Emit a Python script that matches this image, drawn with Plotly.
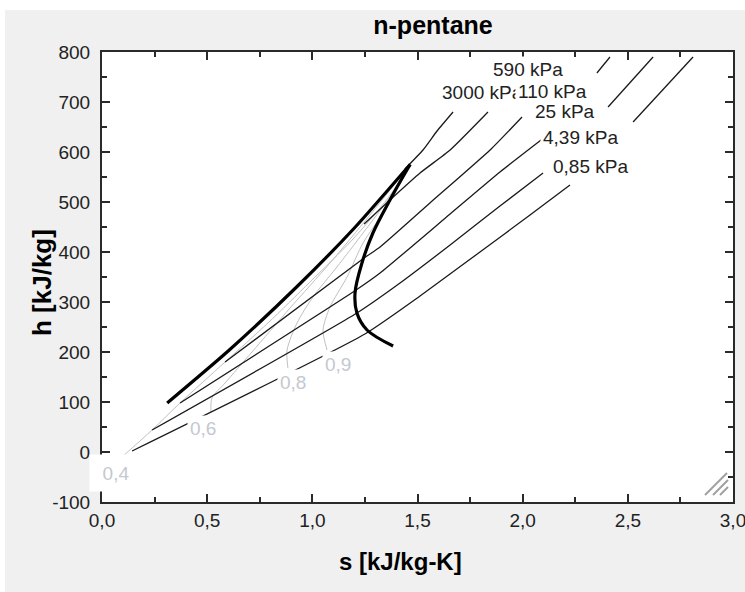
import plotly.graph_objects as go

# ---------------- data (s in kJ/kg-K, h in kJ/kg) ----------------
liquid_s = [0.31, 0.60, 0.93, 1.20, 1.465]
liquid_h = [98, 202, 332, 448, 575]

vapor_s = [1.465, 1.422, 1.369, 1.288, 1.236, 1.203, 1.212, 1.260, 1.384]
vapor_h = [575, 544, 504, 438, 378, 318, 278, 244, 212]

# isobars (None = gap where the curve label sits)
p3000_s = [1.440, 1.526, 1.593, 1.669]
p3000_h = [566, 604, 642, 680]

p590_s = [1.246, 1.369, 1.512, 1.655, 1.835]
p590_h = [456, 504, 558, 604, 680]

p110_s = [0.585, 1.246, 1.322, 1.559, 1.845, 1.997]
p110_h = [180, 388, 410, 498, 604, 670]

p25_s = [0.371, 1.208, 1.322, 1.655, 1.892, 2.106, None, 2.353, 2.415]
p25_h = [98, 324, 358, 476, 560, 630, None, 758, 790]

p439_s = [0.238, 1.212, 1.417, 1.655, 1.892, 2.097, None, 2.406, 2.620]
p439_h = [44, 278, 338, 414, 492, 558, None, 690, 790]

p085_s = [0.143, 1.250, 1.512, 1.797, 2.035, 2.225, None, 2.525, 2.810]
p085_h = [2, 236, 312, 400, 474, 534, None, 660, 790]

# constant-quality lines
q04_s = [0.100, 0.238, 0.371, 0.585, 0.789, 0.989, 1.189, 1.360, 1.464]
q04_h = [-8, 44, 98, 180, 258, 340, 424, 508, 574]
q06_s = [0.518, 0.523, 0.585, 0.713, 0.894, 1.084, 1.274, 1.464]
q06_h = [80, 108, 138, 200, 288, 378, 474, 574]
q08_s = [0.884, 0.880, 0.927, 1.003, 1.117, 1.241, 1.369, 1.464]
q08_h = [168, 204, 258, 310, 370, 438, 510, 574]
q09_s = [1.070, 1.051, 1.084, 1.165, 1.241, 1.322, 1.417, 1.464]
q09_h = [204, 244, 290, 350, 418, 470, 544, 574]

# curve labels (drawn in this order, later ones on top)
isobar_labels = ["0,85 kPa", "4,39 kPa", "25 kPa", "3000 kPa", "590 kPa", "110 kPa"]
isobar_label_s = [2.323, 2.275, 2.201, 1.807, 2.025, 2.144]
isobar_label_h = [572, 630, 682, 720, 766, 722]

quality_labels = ["0,4", "0,6", "0,8", "0,9"]
quality_label_s = [0.067, 0.48, 0.908, 1.122]
quality_label_h = [-42, 48, 140, 176]

x_tick_vals = [0, 0.5, 1.0, 1.5, 2.0, 2.5, 3.0]
x_tick_text = ["0,0", "0,5", "1,0", "1,5", "2,0", "2,5", "3,0"]
y_tick_vals = [-100, 0, 100, 200, 300, 400, 500, 600, 700, 800]
y_tick_text = ["-100", "0", "100", "200", "300", "400", "500", "600", "700", "800"]

# ---------------- figure ----------------
FONT = "Liberation Sans, Arial, sans-serif"
fig = go.Figure()

for qs, qh in [(q04_s, q04_h), (q06_s, q06_h), (q08_s, q08_h), (q09_s, q09_h)]:
    fig.add_trace(go.Scatter(x=qs, y=qh, mode="lines",
                             line=dict(color="#c0c0c0", width=1, shape="spline", smoothing=0.8),
                             hoverinfo="skip", showlegend=False))

for ps, ph in [(p3000_s, p3000_h), (p590_s, p590_h), (p110_s, p110_h),
               (p25_s, p25_h), (p439_s, p439_h), (p085_s, p085_h)]:
    fig.add_trace(go.Scatter(x=ps, y=ph, mode="lines", connectgaps=False,
                             line=dict(color="#1a1a1a", width=1.3, shape="spline", smoothing=0.5),
                             hoverinfo="skip", showlegend=False))

fig.add_trace(go.Scatter(x=liquid_s, y=liquid_h, mode="lines",
                         line=dict(color="black", width=3.2, shape="spline", smoothing=0.6),
                         hoverinfo="skip", showlegend=False))
fig.add_trace(go.Scatter(x=vapor_s, y=vapor_h, mode="lines",
                         line=dict(color="black", width=3.2, shape="spline", smoothing=1.0),
                         hoverinfo="skip", showlegend=False))

annotations = []
for txt, s, h in zip(isobar_labels, isobar_label_s, isobar_label_h):
    annotations.append(dict(x=s, y=h, xref="x", yref="y", text=txt, showarrow=False,
                            font=dict(family=FONT, size=19, color="#222"),
                            bgcolor="white", borderpad=2))
for i, (txt, s, h) in enumerate(zip(quality_labels, quality_label_s, quality_label_h)):
    a = dict(x=s, y=h, xref="x", yref="y", text=txt, showarrow=False,
             font=dict(family=FONT, size=19, color="#c4c8d0"),
             bgcolor="white", borderpad=2)
    if i == 0:
        a.update(width=48, height=32)
    annotations.append(a)

annotations.append(dict(x=(25 - 102) / 631, y=(502 - 283) / 450, xref="paper", yref="paper",
                        text="<b>h [kJ/kg]</b>", textangle=-90, showarrow=False,
                        font=dict(family=FONT, size=26, color="black")))
annotations.append(dict(x=(400 - 102) / 631, y=(502 - 577) / 450, xref="paper", yref="paper",
                        text="<b>s [kJ/kg-K]</b>", showarrow=False,
                        font=dict(family=FONT, size=24, color="black")))

shapes = [
    # white strips at the very top/left of the window
    dict(type="rect", xref="paper", yref="paper", x0=-102 / 631, x1=643 / 631,
         y0=1 + 42 / 450, y1=1 + 52 / 450, fillcolor="white", line_width=0, layer="below"),
    dict(type="rect", xref="paper", yref="paper", x0=-102 / 631, x1=-97 / 631,
         y0=-90 / 450, y1=1 + 52 / 450, fillcolor="white", line_width=0, layer="below"),
]
# resize grip in the bottom right corner
for x0, y0, x1, y1 in [(705, 495, 727, 473), (713, 495, 728, 480), (720, 495, 728, 487)]:
    shapes.append(dict(type="line", xref="paper", yref="paper",
                       x0=(x0 - 102) / 631, y0=(502 - y0) / 450,
                       x1=(x1 - 102) / 631, y1=(502 - y1) / 450,
                       line=dict(color="#a0a0a0", width=2)))

axis_common = dict(showgrid=False, zeroline=False, showline=True, linecolor="#2a2a2a",
                   linewidth=2, mirror="allticks", ticks="inside", tickcolor="#2a2a2a",
                   tickwidth=2, ticklen=8, automargin=False, ticklabeloverflow="allow",
                   tickfont=dict(family=FONT, size=19, color="#222"))

fig.update_layout(
    width=745, height=592,
    margin=dict(l=102, r=12, t=52, b=90, autoexpand=False),
    paper_bgcolor="#f0f0f0", plot_bgcolor="white",
    title=dict(text="<b>n-pentane</b>", x=(433 - 102) / 631, xref="paper", xanchor="center",
               y=1 - 25 / 592, yref="container", yanchor="middle",
               font=dict(family=FONT, size=25, color="black")),
    xaxis=dict(range=[0, 3], tickvals=x_tick_vals, ticktext=x_tick_text,
               minor=dict(ticks="inside", ticklen=5, dtick=0.25, tickcolor="#2a2a2a", tickwidth=2),
               **axis_common),
    yaxis=dict(range=[-100, 800], tickvals=y_tick_vals, ticktext=y_tick_text,
               ticklabelstandoff=6,
               minor=dict(ticks="inside", ticklen=5, dtick=50, tickcolor="#2a2a2a", tickwidth=2),
               **axis_common),
    annotations=annotations, shapes=shapes,
)

fig.write_html("out.html")
